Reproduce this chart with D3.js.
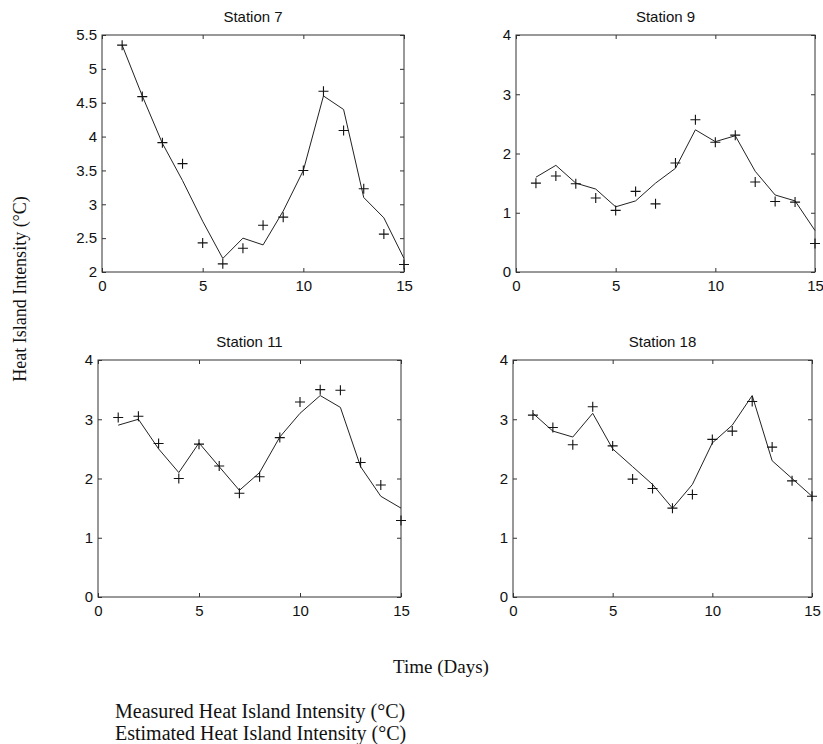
<!DOCTYPE html>
<html><head><meta charset="utf-8">
<script src="https://cdn.jsdelivr.net/npm/d3@7"></script>
<style>body{margin:0;background:#fff}svg{display:block}</style>
</head><body>
<script>
const days = [1,2,3,4,5,6,7,8,9,10,11,12,13,14,15];
const stations = ["Station 7","Station 9","Station 11","Station 18"];
const measured7  = [5.35,4.59,3.91,3.60,2.43,2.12,2.35,2.69,2.81,3.50,4.67,4.09,3.23,2.56,2.11];
const estimated7 = [5.35,4.60,3.90,3.35,2.75,2.20,2.50,2.40,2.90,3.50,4.60,4.40,3.10,2.80,2.20];
const measured9  = [1.50,1.62,1.49,1.25,1.04,1.36,1.15,1.84,2.57,2.19,2.31,1.52,1.19,1.18,0.48];
const estimated9 = [1.60,1.80,1.50,1.40,1.10,1.20,1.50,1.75,2.40,2.20,2.30,1.70,1.30,1.20,0.70];
const measured11  = [3.03,3.05,2.59,2.00,2.58,2.21,1.75,2.03,2.69,3.29,3.50,3.49,2.27,1.89,1.29];
const estimated11 = [2.90,3.00,2.50,2.10,2.60,2.20,1.80,2.10,2.70,3.10,3.40,3.20,2.20,1.70,1.50];
const measured18  = [3.07,2.86,2.57,3.21,2.55,1.99,1.83,1.50,1.73,2.66,2.80,3.30,2.53,1.96,1.70];
const estimated18 = [3.10,2.80,2.70,3.10,2.50,2.20,1.90,1.50,1.90,2.60,2.90,3.40,2.30,2.00,1.70];
const xTicks = [0,5,10,15];
const yTicks7 = [2,2.5,3,3.5,4,4.5,5,5.5];
const yTicksOther = [0,1,2,3,4];

const panels = [
  {title:stations[0], m:measured7,  e:estimated7,  yDom:[2,5.5], yt:yTicks7,    box:[102,35,404,272]},
  {title:stations[1], m:measured9,  e:estimated9,  yDom:[0,4],   yt:yTicksOther, box:[516,35,815,272]},
  {title:stations[2], m:measured11, e:estimated11, yDom:[0,4],   yt:yTicksOther, box:[98,360,401,597]},
  {title:stations[3], m:measured18, e:estimated18, yDom:[0,4],   yt:yTicksOther, box:[513,360,812,597]}
];

const svg = d3.select("body").append("svg").attr("width",823).attr("height",744);
const tickFont = "Liberation Sans, Arial, sans-serif";
const serif = "Liberation Serif, Times New Roman, serif";

panels.forEach(p => {
  const [x0,y0,x1,y1] = p.box;
  const x = d3.scaleLinear().domain([0,15]).range([x0,x1]);
  const y = d3.scaleLinear().domain(p.yDom).range([y1,y0]);
  const g = svg.append("g");
  g.append("rect").attr("x",x0).attr("y",y0).attr("width",x1-x0).attr("height",y1-y0)
    .attr("fill","none").attr("stroke","#333").attr("stroke-width",1);
  const tl = 4;
  const axB = g.append("g").attr("transform",`translate(0,${y1})`)
    .call(d3.axisBottom(x).tickValues(xTicks).tickSizeInner(-tl).tickSizeOuter(0).tickPadding(6).tickFormat(d3.format("d")));
  const axT = g.append("g").attr("transform",`translate(0,${y0})`)
    .call(d3.axisTop(x).tickValues(xTicks).tickSizeInner(-tl).tickSizeOuter(0).tickFormat(""));
  const axL = g.append("g").attr("transform",`translate(${x0},0)`)
    .call(d3.axisLeft(y).tickValues(p.yt).tickSizeInner(-tl).tickSizeOuter(0).tickPadding(5).tickFormat(d=>String(d)));
  const axR = g.append("g").attr("transform",`translate(${x1},0)`)
    .call(d3.axisRight(y).tickValues(p.yt).tickSizeInner(-tl).tickSizeOuter(0).tickFormat(""));
  [axB,axT,axL,axR].forEach(a=>{
    a.select(".domain").remove();
    a.selectAll("line").attr("stroke","#333");
    a.selectAll("text").attr("font-family",tickFont).attr("font-size",15).attr("fill","#111");
  });
  axB.selectAll("text").attr("dy","0.85em");
  g.append("text").attr("x",(x0+x1)/2).attr("y",y0-13).attr("text-anchor","middle")
    .attr("font-family",tickFont).attr("font-size",15).attr("fill","#111").text(p.title);
  const line = d3.line().x((d,i)=>x(days[i])).y(d=>y(d));
  g.append("path").datum(p.e).attr("d",line).attr("fill","none").attr("stroke","#222").attr("stroke-width",1);
  const s = 5;
  g.selectAll(".cross").data(p.m).enter().append("path")
    .attr("d",(d,i)=>{const cx=x(days[i]),cy=y(d);return `M${cx-s},${cy}H${cx+s}M${cx},${cy-s}V${cy+s}`;})
    .attr("stroke","#111").attr("stroke-width",1.1).attr("fill","none");
});

svg.append("text").attr("transform","translate(26,289) rotate(-90)").attr("text-anchor","middle")
  .attr("font-family",serif).attr("font-size",18).attr("fill","#111").text("Heat Island Intensity (°C)");
svg.append("text").attr("x",441).attr("y",673).attr("text-anchor","middle")
  .attr("font-family",serif).attr("font-size",19).attr("fill","#111").text("Time (Days)");
svg.append("text").attr("x",115).attr("y",718)
  .attr("font-family",serif).attr("font-size",20).attr("fill","#111").text("Measured Heat Island Intensity (°C)");
svg.append("text").attr("x",115).attr("y",740)
  .attr("font-family",serif).attr("font-size",20).attr("fill","#111").text("Estimated Heat Island Intensity (°C)");
</script>
</body></html>
